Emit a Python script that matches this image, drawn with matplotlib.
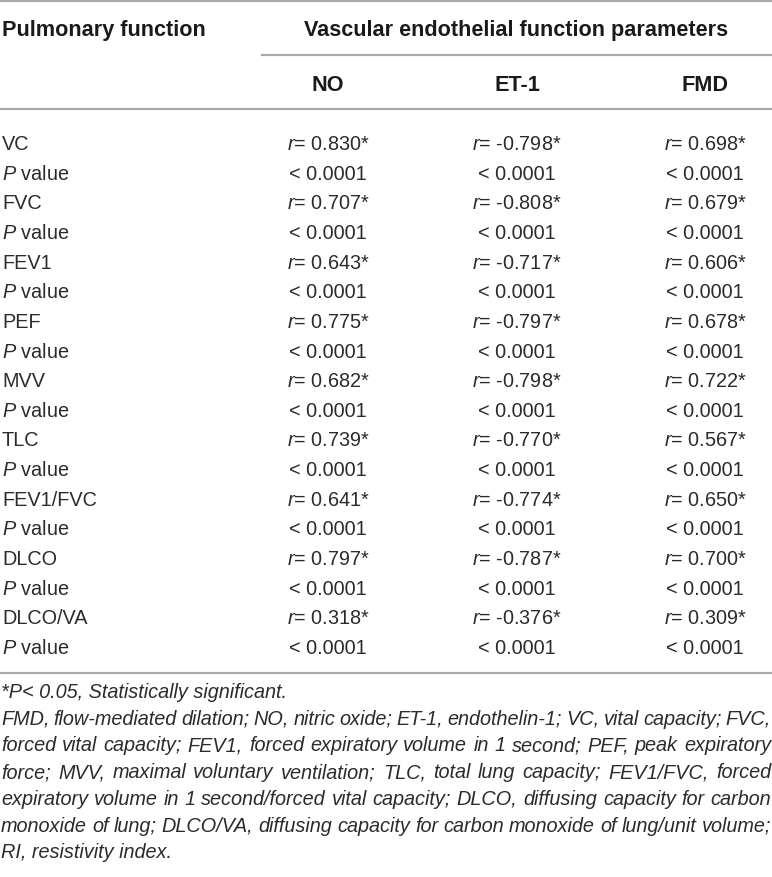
"""Correlation table: pulmonary function vs. vascular endothelial function."""
import matplotlib
matplotlib.use("Agg")
import matplotlib.pyplot as plt

plt.rcParams["font.family"] = ["Liberation Sans", "DejaVu Sans"]
plt.rcParams["mathtext.fontset"] = "custom"
plt.rcParams["mathtext.rm"] = "Liberation Sans"
plt.rcParams["mathtext.it"] = "Liberation Sans:italic"
plt.rcParams["mathtext.bf"] = "Liberation Sans:bold"

# --- table data ---
parameters = ["VC", "FVC", "FEV1", "PEF", "MVV", "TLC", "FEV1/FVC", "DLCO", "DLCO/VA"]
columns = ["NO", "ET-1", "FMD"]
no_r = [0.830, 0.707, 0.643, 0.775, 0.682, 0.739, 0.641, 0.797, 0.318]
et1_r = [-0.798, -0.808, -0.717, -0.797, -0.798, -0.770, -0.774, -0.787, -0.376]
fmd_r = [0.698, 0.679, 0.606, 0.678, 0.722, 0.567, 0.650, 0.700, 0.309]
p_no = ["< 0.0001"] * 9
p_et1 = ["< 0.0001"] * 9
p_fmd = ["< 0.0001"] * 9
header_left = "Pulmonary function"
header_group = "Vascular endothelial function parameters"

footnote_lines = [
    "*P< 0.05, Statistically significant.",
    "FMD, flow-mediated dilation; NO, nitric oxide; ET-1, endothelin-1; VC, vital capacity; FVC,",
    "forced vital capacity; FEV1, forced expiratory volume in 1 second; PEF, peak expiratory",
    "force; MVV, maximal voluntary ventilation; TLC, total lung capacity; FEV1/FVC, forced",
    "expiratory volume in 1 second/forced vital capacity; DLCO, diffusing capacity for carbon",
    "monoxide of lung; DLCO/VA, diffusing capacity for carbon monoxide of lung/unit volume;",
    "RI, resistivity index.",
]
justified = [False, True, True, True, True, True, False]

W, H = 772, 877
fig = plt.figure(figsize=(W / 100, H / 100), dpi=100)
ax = fig.add_axes([0, 0, 1, 1])
ax.set_xlim(0, W)
ax.set_ylim(H, 0)
ax.axis("off")

text_col = "#2b2b2b"
rule_col = "#a8a8a8"
body_fs = 14.3
head_fs = 15.6
col_x = [328, 517, 705]
left_x = 2

# rules
ax.axhline(1, color=rule_col, lw=1.6)
ax.plot([262, W], [55, 55], color=rule_col, lw=1.6)
ax.axhline(109, color=rule_col, lw=1.6)
ax.axhline(673, color=rule_col, lw=1.6)

# header
ax.text(left_x, 36, header_left, fontsize=head_fs, fontweight="bold",
        color="#1a1a1a", va="baseline", ha="left")
ax.text(516, 36, header_group, fontsize=head_fs, fontweight="bold",
        color="#1a1a1a", va="baseline", ha="center")
for x, c in zip(col_x, columns):
    ax.text(x, 91, c, fontsize=head_fs, fontweight="bold",
            color="#1a1a1a", va="baseline", ha="center")

# body rows
row0, step = 143, 29.65
base = 7
rvals = list(zip(no_r, et1_r, fmd_r))
pvals = list(zip(p_no, p_et1, p_fmd))
for i, name in enumerate(parameters):
    y_r = row0 + (2 * i) * step + base
    y_p = row0 + (2 * i + 1) * step + base
    ax.text(left_x, y_r, name, fontsize=body_fs, color=text_col, va="baseline")
    ax.text(left_x, y_p, "$P$ value", fontsize=body_fs, color=text_col, va="baseline")
    for x, v in zip(col_x, rvals[i]):
        ax.text(x, y_r, f"$r$= {v:.3f}*", fontsize=body_fs, color=text_col,
                va="baseline", ha="center")
    for x, p in zip(col_x, pvals[i]):
        ax.text(x, y_p, p, fontsize=body_fs, color=text_col,
                va="baseline", ha="center")

# footnotes (justified lines)
foot_fs = 14.3
foot0, foot_step = 698, 26.7
renderer = fig.canvas.get_renderer()
right_x = 771
for j, (line, just) in enumerate(zip(footnote_lines, justified)):
    y = foot0 + j * foot_step
    if not just:
        ax.text(left_x - 1, y, line, fontsize=foot_fs, style="italic",
                color=text_col, va="baseline")
        continue
    words = line.split(" ")
    objs = [ax.text(0, y, w, fontsize=foot_fs, style="italic", color=text_col,
                    va="baseline") for w in words]
    widths = [o.get_window_extent(renderer).width for o in objs]
    gap = max(2.0, (right_x - (left_x - 1) - sum(widths)) / (len(words) - 1))
    x = left_x - 1
    for o, w in zip(objs, widths):
        o.set_x(x)
        x += w + gap

fig.savefig("out.png", dpi=100)
plt.close(fig)
